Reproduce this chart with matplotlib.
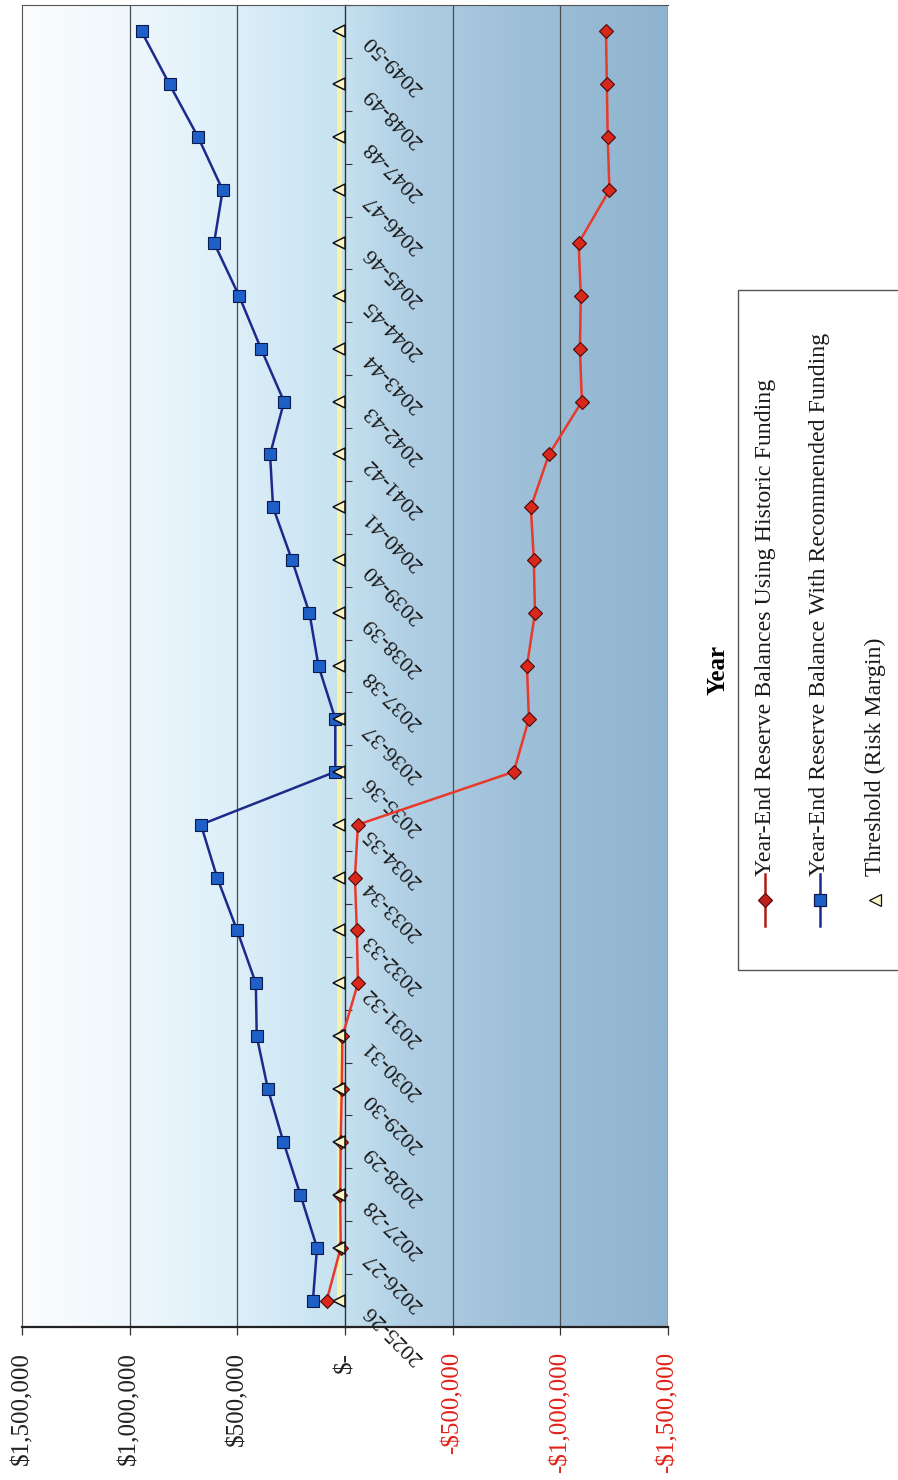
import numpy as np
import matplotlib
matplotlib.use('Agg')
import matplotlib.pyplot as plt
from matplotlib.colors import LinearSegmentedColormap
from matplotlib.lines import Line2D
from matplotlib.patches import Rectangle

plt.rcParams['font.family'] = ['Liberation Serif', 'DejaVu Serif']

years = ['2025-26', '2026-27', '2027-28', '2028-29', '2029-30', '2030-31',
         '2031-32', '2032-33', '2033-34', '2034-35', '2035-36', '2036-37',
         '2037-38', '2038-39', '2039-40', '2040-41', '2041-42', '2042-43',
         '2043-44', '2044-45', '2045-46', '2046-47', '2047-48', '2048-49',
         '2049-50']

historic = [85000, 20000, 22000, 20000, 15000, 12000,
            -60000, -55000, -46000, -60000, -784000, -854000,
            -845000, -882000, -877000, -863000, -947000, -1100000,
            -1091000, -1095000, -1085000, -1228000, -1220000, -1216000,
            -1212000]

recommended = [149000, 130000, 207000, 286000, 358000, 410000,
               414000, 501000, 594000, 669000, 45000, 45000,
               123000, 165000, 246000, 334000, 348000, 283000,
               390000, 492000, 608000, 568000, 682000, 815000,
               945000]

threshold = [28000] * len(years)

value_ticks = [1500000, 1000000, 500000, 0, -500000, -1000000, -1500000]
value_labels = ['$1,500,000', '$1,000,000', '$500,000', '$-',
                '-$500,000', '-$1,000,000', '-$1,500,000']

W, H = 898, 1480
fig = plt.figure(figsize=(W / 100, H / 100), dpi=100, facecolor='white')


def fx(px):
    return px / W


def fy(py):
    return 1 - py / H


ax = fig.add_axes([fx(22), fy(1327), fx(668) - fx(22), fy(5) - fy(1327)])
idx = np.arange(len(years))

# background gradient, light at the top of the value range, steel blue at the bottom
grad_cmap = LinearSegmentedColormap.from_list('bg', [
    (0.0, '#fbfdfe'), (0.17, '#eef7fc'), (0.33, '#ddeff9'),
    (0.5, '#c6e1f0'), (0.6, '#b0cfe4'), (0.75, '#a0c1d9'), (1.0, '#8fb3cf')])
grad = np.linspace(0, 1, 512).reshape(1, -1)
ax.imshow(grad, cmap=grad_cmap, aspect='auto', zorder=0,
          extent=[1500000, -1500000, -0.5, len(years) - 0.5])

ax.set_xlim(1500000, -1500000)
ax.set_ylim(-0.5, len(years) - 0.5)

for v in [1000000, 500000, -500000, -1000000, -1500000]:
    ax.axvline(v, color='#4a4a4a', lw=0.9, zorder=1)

# threshold line + series
ax.plot(threshold, idx, color='#f7f3a8', lw=3.5, zorder=2, solid_capstyle='butt')
ax.plot(historic, idx, color='#e8392b', lw=1.8, marker='D', ms=7,
        mfc='#d8281c', mec='#4a0808', mew=0.8, zorder=3)
ax.plot(recommended, idx, color='#1c2a8c', lw=1.8, marker='s', ms=9,
        mfc='#1f5fc8', mec='#0a1a4a', mew=0.8, zorder=4)
ax.plot(threshold, idx, ls='none', marker='<', ms=9, mfc='#fbf6c8',
        mec='#111111', mew=1.1, zorder=5)

# value axis along the bottom edge
ax.set_xticks(value_ticks)
ax.set_xticklabels(value_labels, rotation=90, va='top', ha='center', fontsize=18)
for lbl, v in zip(ax.get_xticklabels(), value_ticks):
    lbl.set_color('#e0231b' if v < 0 else '#222222')
ax.tick_params(axis='x', length=6, width=0.9, color='#333333', pad=12)

# category axis placed on the zero line
ax.spines['right'].set_position(('data', 0))
ax.yaxis.tick_right()
ax.set_yticks(idx)
ax.set_yticklabels(years, fontsize=16)
ax.set_yticks(np.arange(-0.5, len(years), 1), minor=True)
ax.tick_params(axis='y', which='major', length=0, pad=11, labelrotation=135)
ax.tick_params(axis='y', which='minor', length=5, width=0.8, color='#333333',
               direction='out')
for lbl in ax.get_yticklabels():
    lbl.set_va('top')
    lbl.set_ha('left')
    lbl.set_color('#1a1a1a')

ax.spines['right'].set_color('#333333')
ax.spines['right'].set_linewidth(1.0)
ax.spines['bottom'].set_color('#222222')
ax.spines['bottom'].set_linewidth(1.6)
ax.spines['top'].set_color('#555555')
ax.spines['left'].set_color('#555555')

# axis title
fig.text(fx(718), fy(670), 'Year', rotation=90, ha='center', va='center',
         fontsize=18, fontweight='bold')

# legend box
fig.add_artist(Rectangle((fx(738), fy(970)), fx(905) - fx(738), fy(290) - fy(970),
                         transform=fig.transFigure, facecolor='white',
                         edgecolor='#555555', lw=1.0))
entries = [
    (765, 'Year-End Reserve Balances Using Historic Funding',
     dict(color='#b01a14', marker='D', ms=7, mfc='#c0201a', mec='#5a0a0a')),
    (820, 'Year-End Reserve Balance With Recommended Funding',
     dict(color='#1c2a8c', marker='s', ms=9, mfc='#1f5fc8', mec='#0a1a4a')),
    (875, 'Threshold (Risk Margin)',
     dict(color='none', marker='<', ms=8, mfc='#fbf6c8', mec='#111111')),
]
for x, text, st in entries:
    line_col = st.pop('color')
    if line_col != 'none':
        fig.add_artist(Line2D([fx(x), fx(x)], [fy(926), fy(874)],
                              transform=fig.transFigure, color=line_col, lw=1.8))
    fig.add_artist(Line2D([fx(x)], [fy(900)], transform=fig.transFigure,
                          ls='none', mew=0.9, **st))
    fig.text(fx(x), fy(876), text, rotation=90, ha='center', va='bottom',
             fontsize=17.2, color='#1a1a1a')

fig.savefig('out.png', dpi=100, facecolor=fig.get_facecolor())
